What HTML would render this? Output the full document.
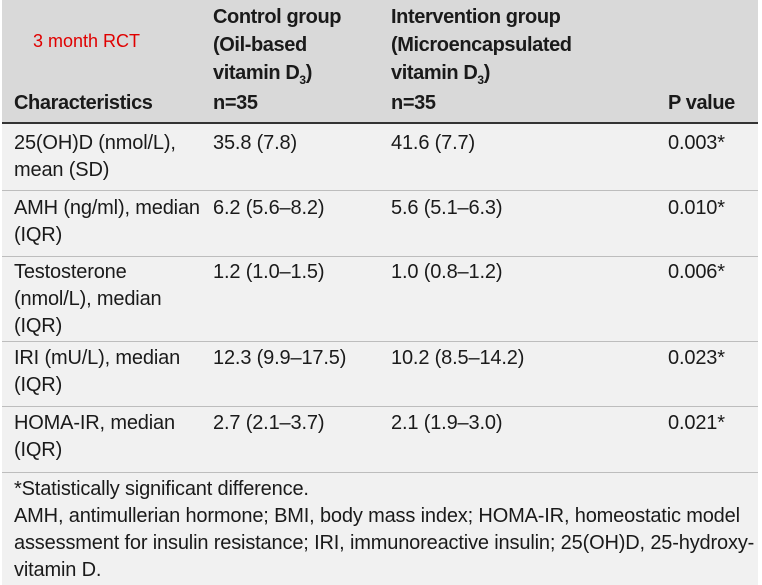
<!DOCTYPE html>
<html><head><style>
body{margin:0;width:762px;height:585px;background:#fff;position:relative;overflow:hidden;font-family:"Liberation Sans",sans-serif;color:#1a1a1a}
.bg{position:absolute;left:2px;width:756px}
.t{position:absolute;font-size:20px;line-height:27px;white-space:nowrap;letter-spacing:-0.16px}
.b{font-weight:bold;letter-spacing:-0.4px;line-height:28px}
.hl{position:absolute;left:2px;width:756px;height:1px;background:#bdbdbd}
sub{font-size:12px;vertical-align:-5px;line-height:0}
</style></head><body>
<div class="bg" style="top:0;height:122px;background:#d9d9d9"></div>
<div class="bg" style="top:124px;height:461px;background:#f1f1f1"></div>
<div class="hl" style="top:122px;height:2px;background:#333"></div>
<div class="hl" style="top:190px"></div>
<div class="hl" style="top:256px"></div>
<div class="hl" style="top:341px"></div>
<div class="hl" style="top:406px"></div>
<div class="hl" style="top:472px"></div>

<div class="t" style="left:33px;top:28px;color:#e00000;font-size:18px;letter-spacing:0">3 month RCT</div>
<div class="t b" style="left:14px;top:89px">Characteristics</div>
<div class="t b" style="left:213px;top:3px">Control group<br>(Oil-based<br>vitamin D<sub>3</sub>)</div>
<div class="t b" style="left:213px;top:89px">n=35</div>
<div class="t b" style="left:391px;top:3px">Intervention group<br>(Microencapsulated<br>vitamin D<sub>3</sub>)</div>
<div class="t b" style="left:391px;top:89px">n=35</div>
<div class="t b" style="left:668px;top:89px">P value</div>

<div class="t" style="left:14px;top:130px">25(OH)D (nmol/L),<br>mean (SD)</div>
<div class="t" style="left:213px;top:130px">35.8 (7.8)</div>
<div class="t" style="left:391px;top:130px">41.6 (7.7)</div>
<div class="t" style="left:668px;top:130px">0.003*</div>

<div class="t" style="left:14px;top:195px">AMH (ng/ml), median<br>(IQR)</div>
<div class="t" style="left:213px;top:195px">6.2 (5.6–8.2)</div>
<div class="t" style="left:391px;top:195px">5.6 (5.1–6.3)</div>
<div class="t" style="left:668px;top:195px">0.010*</div>

<div class="t" style="left:14px;top:259px">Testosterone<br>(nmol/L), median<br>(IQR)</div>
<div class="t" style="left:213px;top:259px">1.2 (1.0–1.5)</div>
<div class="t" style="left:391px;top:259px">1.0 (0.8–1.2)</div>
<div class="t" style="left:668px;top:259px">0.006*</div>

<div class="t" style="left:14px;top:345px">IRI (mU/L), median<br>(IQR)</div>
<div class="t" style="left:213px;top:345px">12.3 (9.9–17.5)</div>
<div class="t" style="left:391px;top:345px">10.2 (8.5–14.2)</div>
<div class="t" style="left:668px;top:345px">0.023*</div>

<div class="t" style="left:14px;top:410px">HOMA-IR, median<br>(IQR)</div>
<div class="t" style="left:213px;top:410px">2.7 (2.1–3.7)</div>
<div class="t" style="left:391px;top:410px">2.1 (1.9–3.0)</div>
<div class="t" style="left:668px;top:410px">0.021*</div>

<div class="t" style="left:14px;top:476px">*Statistically significant difference.<br>AMH, antimullerian hormone; BMI, body mass index; HOMA-IR, homeostatic model<br>assessment for insulin resistance; IRI, immunoreactive insulin; 25(OH)D, 25-hydroxy-<br>vitamin D.</div>
</body></html>
